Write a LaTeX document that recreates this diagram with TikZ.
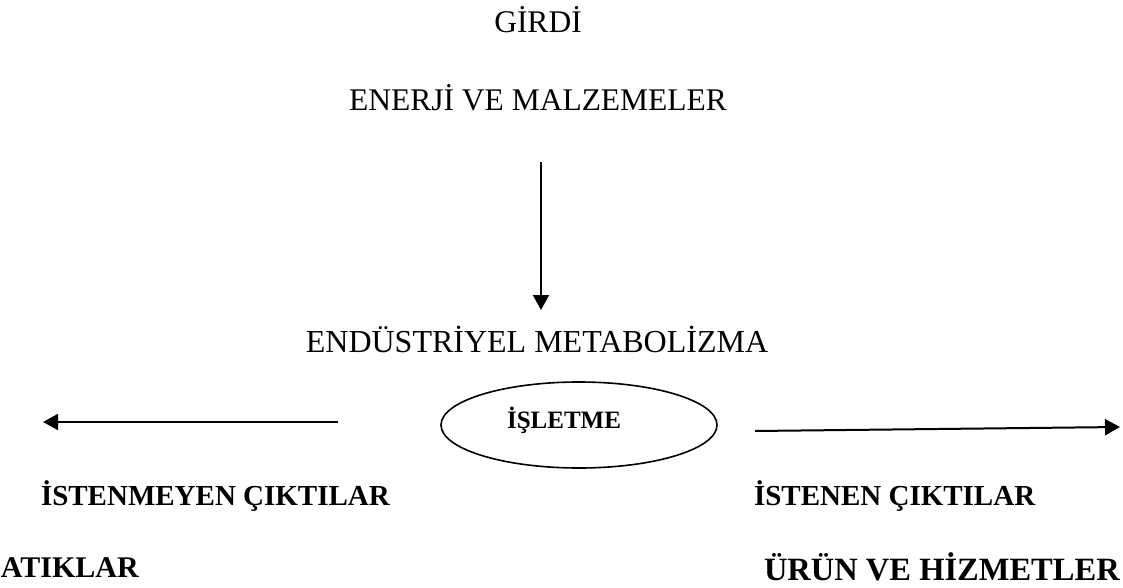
\documentclass[tikz,border=0pt]{standalone}
\usepackage{fontspec}
\setmainfont{Liberation Serif}
\usetikzlibrary{positioning,arrows.meta,shapes.geometric}
\tikzset{>={Triangle[length=15pt,width=16pt]}}
\tikzset{lbl/.style={inner sep=0pt,font=\fontsize{31.5}{36}\selectfont},
  blbl/.style={inner sep=0pt,font=\fontsize{29}{34}\selectfont\bfseries}}

\begin{document}
\begin{tikzpicture}[x=1pt,y=-1pt,line width=2pt]
\useasboundingbox (0,0) rectangle (1123,588);
% input side
\node[lbl,anchor=base] (girdi) at (538,33) {GİRDİ};
\node[lbl,anchor=base] (enerji) at (538,111) {ENERJİ VE MALZEMELER};
\coordinate (intop) at (541,162);
\coordinate (inbot) at (541,310);
\draw[->] (intop) -- (inbot);
\node[lbl,font=\fontsize{32}{38}\selectfont,anchor=base] (metab) at (537,352) {ENDÜSTRİYEL METABOLİZMA};
% plant
\node[draw,ellipse,line width=1.6pt,minimum width=276pt,minimum height=86pt,inner sep=0pt] (isletme) at (579,425) {};
\node[blbl,font=\fontsize{25}{30}\selectfont\bfseries,anchor=base] (isl) at (564,428) {İŞLETME};
% outputs
\coordinate (lstart) at (338,422);
\coordinate (lend) at (43,422);
\draw[->] (lstart) -- (lend);
\coordinate (rstart) at (755,431);
\coordinate (rend) at (1120,427);
\draw[->] (rstart) -- (rend);
\node[blbl,anchor=base west] (istenmeyen) at (40,505) {İSTENMEYEN ÇIKTILAR};
\node[blbl,anchor=base west] (istenen) at (753,505) {İSTENEN ÇIKTILAR};
\node[blbl,font=\fontsize{30}{36}\selectfont\bfseries,anchor=base west] (atik) at (0,577) {ATIKLAR};
\node[blbl,font=\fontsize{32.5}{38}\selectfont\bfseries,anchor=base west] (urun) at (763,580) {ÜRÜN VE HİZMETLER};
\end{tikzpicture}
\end{document}
